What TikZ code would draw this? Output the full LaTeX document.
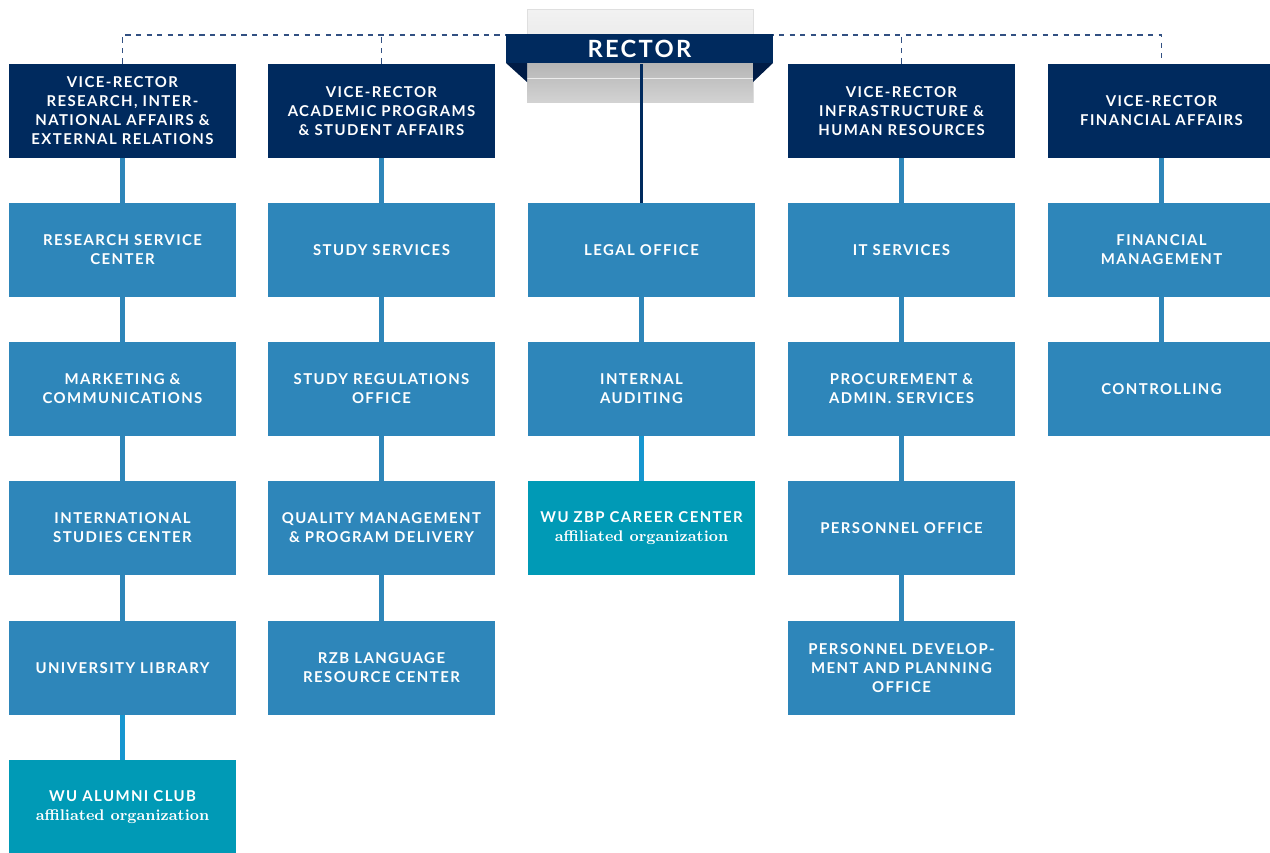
\documentclass[tikz,border=0pt]{standalone}
\usepackage{fontspec}
\newfontfamily\wufont[LetterSpace=9.5]{Lato}
\definecolor{wunavy}{RGB}{0,42,94}
\definecolor{wufold}{RGB}{0,28,70}
\definecolor{wublue}{RGB}{46,134,186}
\definecolor{wuteal}{RGB}{0,154,182}
\definecolor{wulink}{RGB}{22,150,208}
\definecolor{wudash}{RGB}{50,80,130}

\begin{document}
\begin{tikzpicture}[x=0.02cm,y=-0.02cm,
    unit/.style={minimum width=4.54cm,minimum height=1.88cm,inner sep=0pt,
      align=center,text=white,font=\wufont\bfseries\fontsize{8.5}{10.8}\selectfont},
    vicebox/.style={unit,fill=wunavy},
    officebox/.style={unit,fill=wublue},
    affilbox/.style={unit,fill=wuteal},
    link/.style={wublue,line width=0.1cm},
    afflink/.style={wulink,line width=0.1cm},
    headlink/.style={wunavy,line width=0.06cm},
    dashlink/.style={wudash,dashed,line width=0.7pt}]
  \useasboundingbox (0,0) rectangle (1270,852);
  \newcommand{\affil}{\rmfamily\bfseries\fontsize{8.8}{10.8}\selectfont affiliated organization}
  % reporting line of the vice-rectors
  \coordinate (bar) at (641,35);
  % vice-rectors
  \node[vicebox] (vrresearch) at (122.5,111) {VICE-RECTOR\\RESEARCH, INTER-\\NATIONAL AFFAIRS \&\\EXTERNAL RELATIONS};
  \node[vicebox] (vracademic) at (381.5,111) {VICE-RECTOR\\ACADEMIC PROGRAMS\\\& STUDENT AFFAIRS};
  \node[vicebox] (vrinfra) at (901.5,111) {VICE-RECTOR\\INFRASTRUCTURE \&\\HUMAN RESOURCES};
  \node[vicebox] (vrfinance) at (1161.5,111) {VICE-RECTOR\\FINANCIAL AFFAIRS};
  \draw[dashlink] (vrresearch.north) |- (bar) -| (vrfinance.north);
  \draw[dashlink] (vracademic.north) -- (vracademic.north |- bar);
  \draw[dashlink] (vrinfra.north) -- (vrinfra.north |- bar);
  % rector banner with grey backdrop
  \shade[top color=gray!10,bottom color=gray!20] (527,9) rectangle (753,63);
  \draw[gray!25] (527,9) rectangle (753,102);
  \shade[top color=gray!58,bottom color=gray!35] (527,63) rectangle (753,102);
  \draw[gray!15] (527,78) -- (753,78);
  \fill[wufold] (506,63) -- (527,63) -- (527,82) -- cycle;
  \fill[wufold] (773,63) -- (753,63) -- (753,82) -- cycle;
  \node[fill=wunavy,minimum width=5.34cm,minimum height=0.6cm,inner sep=0pt,text=white,
    font=\wufont\bfseries\fontsize{13.5}{14}\selectfont] (rector) at (639.5,48.5) {RECTOR};
  % research column
  \node[officebox] (research) at (122.5,250) {RESEARCH SERVICE\\CENTER};
  \node[officebox] (marketing) at (122.5,389) {MARKETING \&\\COMMUNICATIONS};
  \node[officebox] (isc) at (122.5,528) {INTERNATIONAL\\STUDIES CENTER};
  \node[officebox] (library) at (122.5,668) {UNIVERSITY LIBRARY};
  \node[affilbox] (alumni) at (122.5,807) {WU ALUMNI CLUB\\\affil};
  \draw[link] (vrresearch.south) -- (research.north);
  \draw[link] (research.south) -- (marketing.north);
  \draw[link] (marketing.south) -- (isc.north);
  \draw[link] (isc.south) -- (library.north);
  \draw[afflink] (library.south) -- (alumni.north);
  % academic column
  \node[officebox] (study) at (381.5,250) {STUDY SERVICES};
  \node[officebox] (regulations) at (381.5,389) {STUDY REGULATIONS\\OFFICE};
  \node[officebox] (quality) at (381.5,528) {QUALITY MANAGEMENT\\\& PROGRAM DELIVERY};
  \node[officebox] (language) at (381.5,668) {RZB LANGUAGE\\RESOURCE CENTER};
  \draw[link] (vracademic.south) -- (study.north);
  \draw[link] (study.south) -- (regulations.north);
  \draw[link] (regulations.south) -- (quality.north);
  \draw[link] (quality.south) -- (language.north);
  % rector column
  \node[officebox] (legal) at (641.5,250) {LEGAL OFFICE};
  \node[officebox] (auditing) at (641.5,389) {INTERNAL\\AUDITING};
  \node[affilbox] (career) at (641.5,528) {WU ZBP CAREER CENTER\\\affil};
  \draw[headlink] (rector.south -| legal.north) -- (legal.north);
  \draw[link] (legal.south) -- (auditing.north);
  \draw[afflink] (auditing.south) -- (career.north);
  % infrastructure column
  \node[officebox] (it) at (901.5,250) {IT SERVICES};
  \node[officebox] (procurement) at (901.5,389) {PROCUREMENT \&\\ADMIN. SERVICES};
  \node[officebox] (personnel) at (901.5,528) {PERSONNEL OFFICE};
  \node[officebox] (development) at (901.5,668) {PERSONNEL DEVELOP-\\MENT AND PLANNING\\OFFICE};
  \draw[link] (vrinfra.south) -- (it.north);
  \draw[link] (it.south) -- (procurement.north);
  \draw[link] (procurement.south) -- (personnel.north);
  \draw[link] (personnel.south) -- (development.north);
  % finance column
  \node[officebox] (financial) at (1161.5,250) {FINANCIAL\\MANAGEMENT};
  \node[officebox] (controlling) at (1161.5,389) {CONTROLLING};
  \draw[link] (vrfinance.south) -- (financial.north);
  \draw[link] (financial.south) -- (controlling.north);
\end{tikzpicture}
\end{document}
